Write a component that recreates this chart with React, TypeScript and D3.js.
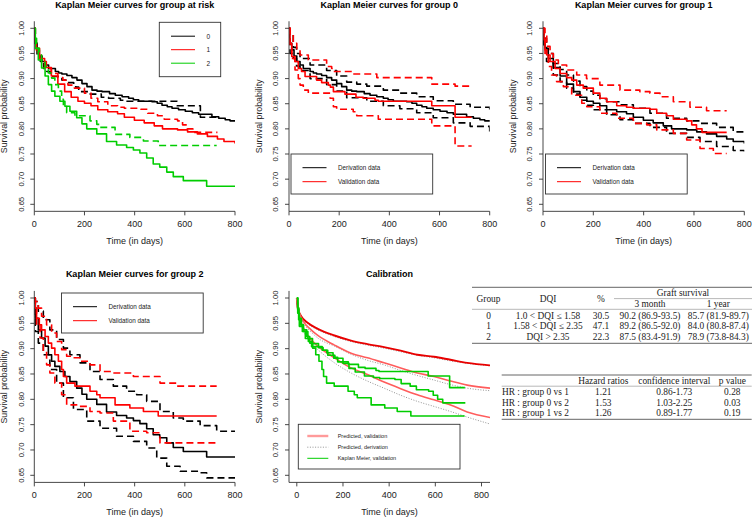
import React from "react";
import * as d3 from "d3";

type P = [number, number];

// ---------- Kaplan-Meier data (time in days, survival) ----------
const g0Deriv: P[] = [[0,1],[2,0.97],[11,0.957],[20,0.945],[31,0.934],[44,0.927],[57,0.92],[84,0.914],[97,0.911],[110,0.909],[130,0.906],[150,0.902],[170,0.897],[190,0.89],[210,0.884],[230,0.877],[250,0.875],[270,0.874],[300,0.87],[323,0.867],[350,0.864],[376,0.861],[395,0.858],[416,0.855],[469,0.854],[490,0.851],[509,0.847],[530,0.844],[549,0.841],[575,0.838],[602,0.835],[630,0.832],[655,0.829],[708,0.824],[735,0.821],[761,0.818],[780,0.816],[800,0.814]];
const g0DerivUp: P[] = [[0,1],[3,0.99],[17,0.962],[30,0.95],[44,0.94],[84,0.927],[150,0.916],[190,0.905],[230,0.893],[270,0.889],[310,0.885],[376,0.877],[442,0.871],[509,0.864],[575,0.856],[655,0.849],[722,0.843],[800,0.836]];
const g0DerivLo: P[] = [[0,1],[4,0.95],[17,0.94],[30,0.925],[44,0.916],[84,0.9],[150,0.888],[190,0.875],[230,0.862],[310,0.855],[376,0.846],[442,0.84],[509,0.832],[575,0.822],[655,0.812],[722,0.805],[800,0.794]];
const g0Valid: P[] = [[0,1],[4,0.97],[11,0.944],[24,0.934],[37,0.92],[50,0.914],[64,0.904],[110,0.897],[130,0.892],[157,0.887],[165,0.883],[177,0.874],[223,0.869],[267,0.863],[296,0.861],[343,0.857],[356,0.855],[569,0.846],[662,0.823],[728,0.823]];
const g0ValidUp: P[] = [[0,1],[4,0.99],[17,0.97],[31,0.957],[44,0.947],[77,0.937],[150,0.924],[170,0.92],[177,0.914],[256,0.909],[350,0.902],[569,0.889],[662,0.885],[728,0.885]];
const g0ValidLo: P[] = [[0,1],[4,0.96],[11,0.94],[24,0.917],[37,0.9],[44,0.887],[57,0.877],[77,0.871],[164,0.861],[177,0.844],[190,0.839],[256,0.834],[270,0.826],[356,0.819],[569,0.806],[662,0.766],[728,0.766]];

const g1Deriv: P[] = [[0,1],[3,0.97],[8,0.96],[21,0.94],[41,0.922],[68,0.905],[94,0.889],[121,0.874],[147,0.863],[174,0.855],[200,0.851],[226,0.846],[253,0.838],[293,0.834],[332,0.83],[359,0.823],[399,0.817],[438,0.812],[478,0.806],[511,0.8],[571,0.798],[611,0.794],[650,0.79],[690,0.785],[730,0.78],[756,0.775],[800,0.771]];
const g1DerivUp: P[] = [[0,1],[3,0.98],[14,0.95],[41,0.93],[68,0.918],[94,0.907],[121,0.895],[147,0.884],[174,0.875],[200,0.867],[226,0.86],[253,0.854],[306,0.848],[359,0.841],[425,0.831],[491,0.821],[571,0.816],[624,0.811],[690,0.803],[756,0.794],[800,0.791]];
const g1DerivLo: P[] = [[0,1],[3,0.96],[14,0.934],[41,0.907],[68,0.894],[94,0.881],[121,0.869],[147,0.857],[174,0.847],[200,0.838],[253,0.828],[306,0.818],[359,0.811],[425,0.803],[491,0.791],[571,0.783],[624,0.775],[690,0.765],[756,0.757],[800,0.755]];
const g1Valid: P[] = [[0,1],[4,0.977],[8,0.957],[15,0.947],[28,0.934],[48,0.92],[68,0.91],[94,0.902],[114,0.897],[134,0.887],[160,0.881],[200,0.871],[226,0.861],[253,0.854],[293,0.846],[332,0.843],[359,0.841],[425,0.839],[452,0.831],[491,0.826],[518,0.819],[571,0.816],[591,0.808],[610,0.8],[632,0.793],[730,0.793]];
const g1ValidUp: P[] = [[0,1],[4,0.99],[15,0.964],[28,0.95],[41,0.937],[61,0.927],[94,0.917],[134,0.907],[173,0.9],[226,0.887],[306,0.877],[385,0.874],[425,0.871],[465,0.864],[518,0.854],[584,0.843],[650,0.836],[730,0.836]];
const g1ValidLo: P[] = [[0,1],[8,0.95],[21,0.924],[34,0.907],[54,0.894],[81,0.884],[114,0.867],[154,0.851],[174,0.844],[226,0.831],[293,0.821],[359,0.811],[412,0.808],[452,0.798],[518,0.791],[571,0.778],[624,0.761],[677,0.751],[730,0.751]];

const g2Deriv: P[] = [[0,1],[4,0.96],[16,0.937],[29,0.921],[43,0.905],[56,0.888],[69,0.875],[82,0.865],[102,0.855],[122,0.845],[142,0.835],[169,0.822],[190,0.81],[209,0.8],[249,0.79],[288,0.775],[328,0.768],[368,0.763],[395,0.758],[421,0.752],[448,0.742],[474,0.73],[500,0.724],[528,0.714],[554,0.705],[594,0.697],[687,0.686],[800,0.686]];
const g2DerivUp: P[] = [[0,1],[3,0.993],[16,0.974],[36,0.957],[62,0.937],[89,0.918],[116,0.901],[142,0.888],[182,0.872],[222,0.855],[262,0.839],[315,0.826],[368,0.816],[408,0.809],[448,0.796],[501,0.776],[554,0.763],[594,0.757],[661,0.748],[727,0.737],[800,0.737]];
const g2DerivLo: P[] = [[0,1],[4,0.934],[16,0.911],[36,0.888],[62,0.859],[89,0.832],[116,0.803],[156,0.78],[209,0.757],[262,0.743],[328,0.727],[395,0.717],[448,0.704],[488,0.684],[528,0.668],[581,0.658],[661,0.655],[687,0.645],[800,0.64]];
const g2Valid: P[] = [[0,1],[4,0.98],[9,0.96],[20,0.947],[29,0.937],[43,0.924],[56,0.911],[69,0.901],[82,0.888],[96,0.875],[109,0.859],[116,0.845],[129,0.832],[162,0.826],[222,0.816],[249,0.809],[262,0.803],[322,0.789],[381,0.783],[435,0.776],[494,0.767],[727,0.767]];
const g2ValidUp: P[] = [[0,1],[3,0.993],[16,0.98],[29,0.964],[49,0.947],[69,0.931],[89,0.914],[109,0.898],[129,0.885],[149,0.882],[182,0.875],[222,0.868],[262,0.855],[315,0.852],[395,0.845],[501,0.832],[568,0.826],[727,0.826]];
const g2ValidLo: P[] = [[0,1],[3,0.98],[9,0.947],[23,0.921],[36,0.895],[49,0.868],[62,0.852],[82,0.832],[109,0.809],[129,0.789],[169,0.786],[222,0.776],[262,0.773],[315,0.757],[381,0.737],[448,0.734],[501,0.714],[727,0.714]];

// ---------- Calibration: predicted survival ----------
const predValid0: P[] = [[0,1],[4,0.98],[19,0.964],[47,0.951],[91,0.939],[163,0.926],[235,0.916],[306,0.909],[378,0.903],[450,0.896],[522,0.888],[594,0.884],[666,0.878],[738,0.872],[839,0.867]];
const predDeriv0: P[] = [[0,1],[4,0.978],[19,0.962],[47,0.949],[91,0.937],[163,0.924],[235,0.914],[306,0.907],[378,0.901],[450,0.894],[522,0.887],[594,0.882],[666,0.876],[738,0.871],[839,0.866]];
const predValid1: P[] = [[0,1],[12,0.97],[33,0.951],[62,0.937],[91,0.926],[163,0.907],[235,0.891],[306,0.882],[378,0.872],[450,0.862],[522,0.852],[594,0.845],[666,0.836],[738,0.828],[839,0.822]];
const predDeriv1: P[] = [[0,1],[12,0.968],[33,0.948],[62,0.933],[91,0.921],[163,0.905],[235,0.889],[306,0.877],[378,0.868],[450,0.857],[522,0.847],[594,0.838],[666,0.829],[738,0.822],[839,0.817]];
const predValid2: P[] = [[0,1],[12,0.964],[33,0.937],[62,0.918],[91,0.905],[163,0.882],[235,0.862],[306,0.849],[378,0.834],[450,0.821],[522,0.809],[594,0.799],[666,0.789],[738,0.775],[839,0.764]];
const predDeriv2: P[] = [[0,1],[12,0.96],[33,0.93],[62,0.91],[91,0.898],[163,0.872],[235,0.852],[306,0.836],[378,0.822],[450,0.808],[522,0.796],[594,0.786],[666,0.776],[738,0.765],[839,0.751]];

// ---------- axes / labels ----------
const xTicks = [0, 200, 400, 600, 800];
const yTicks = [0.65, 0.7, 0.75, 0.8, 0.85, 0.9, 0.95, 1.0];
const groupLabels = ["0", "1", "2"];
const dataLabels = ["Derivation data", "Validation data"];
const calibLabels = ["Predicted, validation", "Predicted, derivation", "Kaplan Meier, validation"];

// ---------- tables ----------
const t1Group = ["0", "1", "2"];
const t1DQI = ["1.0 < DQI ≤ 1.58", "1.58 < DQI ≤ 2.35", "DQI > 2.35"];
const t1Pct = ["30.5", "47.1", "22.3"];
const t1ThreeMonth = ["90.2 (86.9-93.5)", "89.2 (86.5-92.0)", "87.5 (83.4-91.9)"];
const t1OneYear = ["85.7 (81.9-89.7)", "84.0 (80.8-87.4)", "78.9 (73.8-84.3)"];
const t2Labels = ["HR : group 0 vs 1", "HR : group 0 vs 2", "HR : group 1 vs 2"];
const t2HR = ["1.21", "1.53", "1.26"];
const t2CI = ["0.86-1.73", "1.03-2.25", "0.89-1.77"];
const t2P = ["0.28", "0.03", "0.19"];

const BLACK = "#000000";
const RED = "#ff0000";
const GREEN = "#00cd00";
const SANS = "'Liberation Sans', Arial, Helvetica, sans-serif";
const SERIF = "'Liberation Serif', 'Times New Roman', serif";
const DASH = "7,4";

type Series = { data: P[]; color: string; dash?: string; width?: number; smooth?: boolean; opacity?: number };

type PanelSpec = {
  id: string;
  title: string;
  x0: number; x800: number; y100: number; y065: number;
  left?: number; right?: number;
  series: Series[];
  legend?: React.ReactNode;
};

function Panel({ spec }: { spec: PanelSpec }) {
  const xs = d3.scaleLinear().domain([0, 800]).range([spec.x0, spec.x800]);
  const ys = d3.scaleLinear().domain([0.65, 1]).range([spec.y065, spec.y100]);
  const left = spec.left ?? xs(0);
  const right = spec.right ?? xs(800);
  const top = ys(1.014);
  const bottom = ys(0.636);
  const step = d3.line<P>().x(d => xs(d[0])).y(d => ys(d[1])).curve(d3.curveStepAfter);
  const smooth = d3.line<P>().x(d => xs(d[0])).y(d => ys(d[1])).curve(d3.curveMonotoneX);
  const clipId = `clip-${spec.id}`;
  const cx = (left + right) / 2;
  return (
    <g>
      <defs>
        <clipPath id={clipId}>
          <rect x={left} y={top} width={right - left} height={bottom - top} />
        </clipPath>
      </defs>
      <text x={cx} y={top - 16.5} textAnchor="middle" dominantBaseline="central" fontFamily={SANS} fontWeight="bold" fontSize={9}>{spec.title}</text>
      <g clipPath={`url(#${clipId})`}>
        {spec.series.map((s, i) => (
          <path key={i} d={(s.smooth ? smooth : step)(s.data) || ""} fill="none" stroke={s.color}
            strokeWidth={s.width ?? 1.6} strokeDasharray={s.dash} strokeOpacity={s.opacity ?? 1} strokeLinejoin="round" />
        ))}
      </g>
      <line x1={left} x2={left} y1={top} y2={bottom} stroke="#333" strokeWidth={0.9} />
      <line x1={left} x2={right} y1={bottom} y2={bottom} stroke="#333" strokeWidth={0.9} />
      {yTicks.map(t => (
        <g key={t}>
          <line x1={left - 4} x2={left} y1={ys(t)} y2={ys(t)} stroke="#333" strokeWidth={0.9} />
          <text transform={`translate(${left - 13.3},${ys(t)}) rotate(-90)`} textAnchor="middle" dominantBaseline="central" fontFamily={SANS} fontSize={7.6} fill="#222">{t.toFixed(2)}</text>
        </g>
      ))}
      {xTicks.map(t => (
        <g key={t}>
          <line x1={xs(t)} x2={xs(t)} y1={bottom} y2={bottom + 4} stroke="#333" strokeWidth={0.9} />
          <text x={xs(t)} y={bottom + 13} textAnchor="middle" dominantBaseline="central" fontFamily={SANS} fontSize={9} fill="#222">{t}</text>
        </g>
      ))}
      <text x={cx} y={bottom + 29.5} textAnchor="middle" dominantBaseline="central" fontFamily={SANS} fontSize={9} fill="#222">Time (in days)</text>
      <text transform={`translate(${left - 30},${(top + bottom) / 2}) rotate(-90)`} textAnchor="middle" dominantBaseline="central" fontFamily={SANS} fontSize={8.8} fill="#222">Survival probability</text>
      {spec.legend}
    </g>
  );
}

function DataLegend({ x, y }: { x: number; y: number }) {
  const colors = [BLACK, RED];
  return (
    <g>
      <rect x={x} y={y} width={141.7} height={40} fill="white" stroke="#333" strokeWidth={0.9} />
      {dataLabels.map((lab, i) => (
        <g key={lab}>
          <line x1={x + 11.5} x2={x + 35.5} y1={y + 13.7 + i * 14} y2={y + 13.7 + i * 14} stroke={colors[i]} strokeWidth={1} />
          <text x={x + 47} y={y + 13.7 + i * 14} dominantBaseline="central" fontFamily={SANS} fontSize={6.3} fill="#222">{lab}</text>
        </g>
      ))}
    </g>
  );
}

function GroupLegend() {
  const colors = [BLACK, RED, GREEN];
  return (
    <g>
      <rect x={159.3} y={22.3} width={61.4} height={54.4} fill="white" stroke="#333" strokeWidth={0.9} />
      {groupLabels.map((lab, i) => (
        <g key={lab}>
          <line x1={171} x2={195} y1={36.2 + i * 13.5} y2={36.2 + i * 13.5} stroke={colors[i]} strokeWidth={1} />
          <text x={206.5} y={36.2 + i * 13.5} dominantBaseline="central" fontFamily={SANS} fontSize={6.5} fill="#222">{lab}</text>
        </g>
      ))}
    </g>
  );
}

function CalibLegend() {
  const ys = [436, 447.2, 458.3];
  return (
    <g>
      <rect x={298.3} y={424.3} width={161.7} height={44.7} fill="white" stroke="#333" strokeWidth={0.9} />
      <line x1={307.3} x2={328.3} y1={ys[0]} y2={ys[0]} stroke="#ff9a9a" strokeWidth={2.4} />
      <line x1={307.3} x2={328.3} y1={ys[1]} y2={ys[1]} stroke="#777" strokeWidth={0.8} strokeDasharray="1,1.6" />
      <line x1={307.3} x2={328.3} y1={ys[2]} y2={ys[2]} stroke={GREEN} strokeWidth={1} />
      {calibLabels.map((lab, i) => (
        <text key={lab} x={337.7} y={ys[i]} dominantBaseline="central" fontFamily={SANS} fontSize={5.5} fill="#222">{lab}</text>
      ))}
    </g>
  );
}

function Table1() {
  const cols = { group: 488.5, dqi: 548, pct: 601, m3: 650, y1: 718.3 };
  const rowsY = [315.7, 326.3, 337.3];
  const fs = 9.4;
  const T = (x: number, y: number, s: string) => (
    <text x={x} y={y} textAnchor="middle" dominantBaseline="central" fontFamily={SERIF} fontSize={fs} fill="#222">{s}</text>
  );
  return (
    <g>
      <rect x={472} y={283} width={282} height={64} fill="white" />
      <line x1={472} x2={752} y1={287.3} y2={287.3} stroke="#666" strokeWidth={1} />
      <line x1={614} x2={752} y1={298.6} y2={298.6} stroke="#888" strokeWidth={0.6} />
      <line x1={472} x2={752} y1={309.3} y2={309.3} stroke="#888" strokeWidth={0.6} />
      <line x1={472} x2={752} y1={343.3} y2={343.3} stroke="#666" strokeWidth={1} />
      {T(cols.group, 299, "Group")}
      {T(cols.dqi, 299, "DQI")}
      {T(cols.pct, 299, "%")}
      {T(683, 293, "Graft survival")}
      {T(cols.m3, 304.2, "3 month")}
      {T(cols.y1, 304.2, "1 year")}
      {rowsY.map((y, i) => (
        <g key={i}>
          {T(cols.group, y, t1Group[i])}
          {T(cols.dqi, y, t1DQI[i])}
          {T(cols.pct, y, t1Pct[i])}
          {T(cols.m3, y, t1ThreeMonth[i])}
          {T(cols.y1, y, t1OneYear[i])}
        </g>
      ))}
    </g>
  );
}

function Table2() {
  const rowsY = [392.3, 402.7, 413.3];
  const fs = 9.4;
  const T = (x: number, y: number, s: string, anchor = "middle") => (
    <text x={x} y={y} textAnchor={anchor as any} dominantBaseline="central" fontFamily={SERIF} fontSize={fs} fill="#222">{s}</text>
  );
  return (
    <g>
      <line x1={501.7} x2={751.7} y1={375} y2={375} stroke="#666" strokeWidth={1} />
      <line x1={501.7} x2={751.7} y1={386.2} y2={386.2} stroke="#888" strokeWidth={0.6} />
      <line x1={501.7} x2={751.7} y1={419.3} y2={419.3} stroke="#666" strokeWidth={1} />
      {T(603.3, 380.8, "Hazard ratios")}
      {T(674.3, 380.8, "confidence interval")}
      {T(732.3, 380.8, "p value")}
      {rowsY.map((y, i) => (
        <g key={i}>
          {T(502, y, t2Labels[i], "start")}
          {T(603.3, y, t2HR[i])}
          {T(674.3, y, t2CI[i])}
          {T(732.3, y, t2P[i])}
        </g>
      ))}
    </g>
  );
}

export default function App() {
  const panels: PanelSpec[] = [
    {
      id: "A", title: "Kaplan Meier curves for group at risk",
      x0: 34.3, x800: 235, y100: 28.3, y065: 204.3,
      series: [
        { data: g0Deriv, color: BLACK },
        { data: g0Valid, color: BLACK, dash: DASH },
        { data: g1Deriv, color: RED },
        { data: g1Valid, color: RED, dash: DASH },
        { data: g2Deriv, color: GREEN },
        { data: g2Valid, color: GREEN, dash: DASH },
      ],
      legend: <GroupLegend />,
    },
    {
      id: "B", title: "Kaplan Meier curves for group 0",
      x0: 289, x800: 489.7, y100: 28.3, y065: 204.3,
      series: [
        { data: g0Deriv, color: BLACK },
        { data: g0DerivUp, color: BLACK, dash: DASH },
        { data: g0DerivLo, color: BLACK, dash: DASH },
        { data: g0Valid, color: RED },
        { data: g0ValidUp, color: RED, dash: DASH },
        { data: g0ValidLo, color: RED, dash: DASH },
      ],
      legend: <DataLegend x={291} y={154} />,
    },
    {
      id: "C", title: "Kaplan Meier curves for group 1",
      x0: 543, x800: 744.3, y100: 28.3, y065: 204.3,
      series: [
        { data: g1Deriv, color: BLACK },
        { data: g1DerivUp, color: BLACK, dash: DASH },
        { data: g1DerivLo, color: BLACK, dash: DASH },
        { data: g1Valid, color: RED },
        { data: g1ValidUp, color: RED, dash: DASH },
        { data: g1ValidLo, color: RED, dash: DASH },
      ],
      legend: <DataLegend x={545.5} y={154} />,
    },
    {
      id: "D", title: "Kaplan Meier curves for group 2",
      x0: 34.3, x800: 235, y100: 298, y065: 475.3,
      series: [
        { data: g2Deriv, color: BLACK },
        { data: g2DerivUp, color: BLACK, dash: DASH },
        { data: g2DerivLo, color: BLACK, dash: DASH },
        { data: g2Valid, color: RED },
        { data: g2ValidUp, color: RED, dash: DASH },
        { data: g2ValidLo, color: RED, dash: DASH },
      ],
      legend: <DataLegend x={61.5} y={293} />,
    },
    {
      id: "E", title: "Calibration",
      x0: 296.8, x800: 481.5, y100: 298, y065: 475.3, left: 289, right: 490,
      series: [
        { data: predDeriv0, color: "#777", dash: "1,1.6", width: 0.8, smooth: true },
        { data: predDeriv1, color: "#777", dash: "1,1.6", width: 0.8, smooth: true },
        { data: predDeriv2, color: "#777", dash: "1,1.6", width: 0.8, smooth: true },
        { data: predValid0, color: "#e80000", width: 1.9, smooth: true },
        { data: predValid1, color: "#ff5c5c", width: 1.6, smooth: true },
        { data: predValid2, color: "#ff5c5c", width: 1.6, smooth: true },
        { data: g0Valid, color: GREEN, width: 1.6 },
        { data: g1Valid, color: GREEN, width: 1.6 },
        { data: g2Valid, color: GREEN, width: 1.6 },
      ],
      legend: <CalibLegend />,
    },
  ];
  return (
    <svg width={754} height={517} viewBox="0 0 754 517" style={{ position: "absolute", left: 0, top: 0, background: "white" }}>
      <rect x={0} y={0} width={754} height={517} fill="white" />
      {panels.map(p => <Panel key={p.id} spec={p} />)}
      <Table1 />
      <Table2 />
    </svg>
  );
}
